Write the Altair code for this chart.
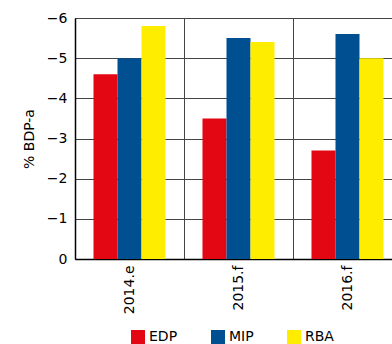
import altair as alt
import pandas as pd

years = ["2014.e", "2015.f", "2016.f"]
series = ["EDP", "MIP", "RBA"]
edp = [-4.6, -3.5, -2.7]
mip = [-5.0, -5.5, -5.6]
rba = [-5.8, -5.4, -5.0]
colors = ["#E30613", "#004F91", "#FFED00"]
y_ticks = [0, -1, -2, -3, -4, -5, -6]

rows = []
for i, yr in enumerate(years):
    for s, vals in zip(series, [edp, mip, rba]):
        rows.append({"year": yr, "series": s, "value": vals[i]})
df = pd.DataFrame(rows)

chart = alt.Chart(df).mark_bar().encode(
    x=alt.X(
        "year:N", sort=years,
        scale=alt.Scale(range=[0, 327], paddingInner=0, paddingOuter=0),
        axis=alt.Axis(title=None, labelAngle=-90, ticks=False, labelPadding=6,
                      tickBand="extent", grid=True, gridColor="#444", gridWidth=1,
                      domainColor="#000", domainWidth=1.5, labelFontSize=14,
                      labelColor="#000"),
    ),
    xOffset=alt.XOffset("series:N", sort=series,
                        scale=alt.Scale(paddingInner=0, paddingOuter=0.77)),
    y=alt.Y(
        "value:Q",
        scale=alt.Scale(domain=[-6, 0], reverse=True, nice=False, zero=False),
        axis=alt.Axis(values=y_ticks, format="d", title="% BDP-a", ticks=False,
                      labelPadding=8, grid=True, gridColor="#444", gridWidth=1,
                      domainColor="#000", domainWidth=1.5, labelFontSize=14,
                      labelColor="#000", titleFontSize=14, titleFontWeight="normal",
                      titlePadding=10, titleColor="#000"),
    ),
    color=alt.Color(
        "series:N",
        scale=alt.Scale(domain=series, range=colors),
        legend=alt.Legend(orient="none", legendX=56, legendY=312, direction="horizontal",
                          title=None, symbolType="square",
                          symbolSize=196, symbolStrokeWidth=0, labelFontSize=14,
                          labelColor="#000", columnPadding=33, labelOffset=4,
                          symbolOpacity=1),
    ),
).properties(
    width=317, height=241,
    autosize=alt.AutoSizeParams(type="none"),
    padding={"left": 75, "top": 18, "right": 0, "bottom": 85},
).configure_view(stroke=None).configure(font="DejaVu Sans")

chart.save("out.html", embed_options={"renderer": "svg", "actions": False})
